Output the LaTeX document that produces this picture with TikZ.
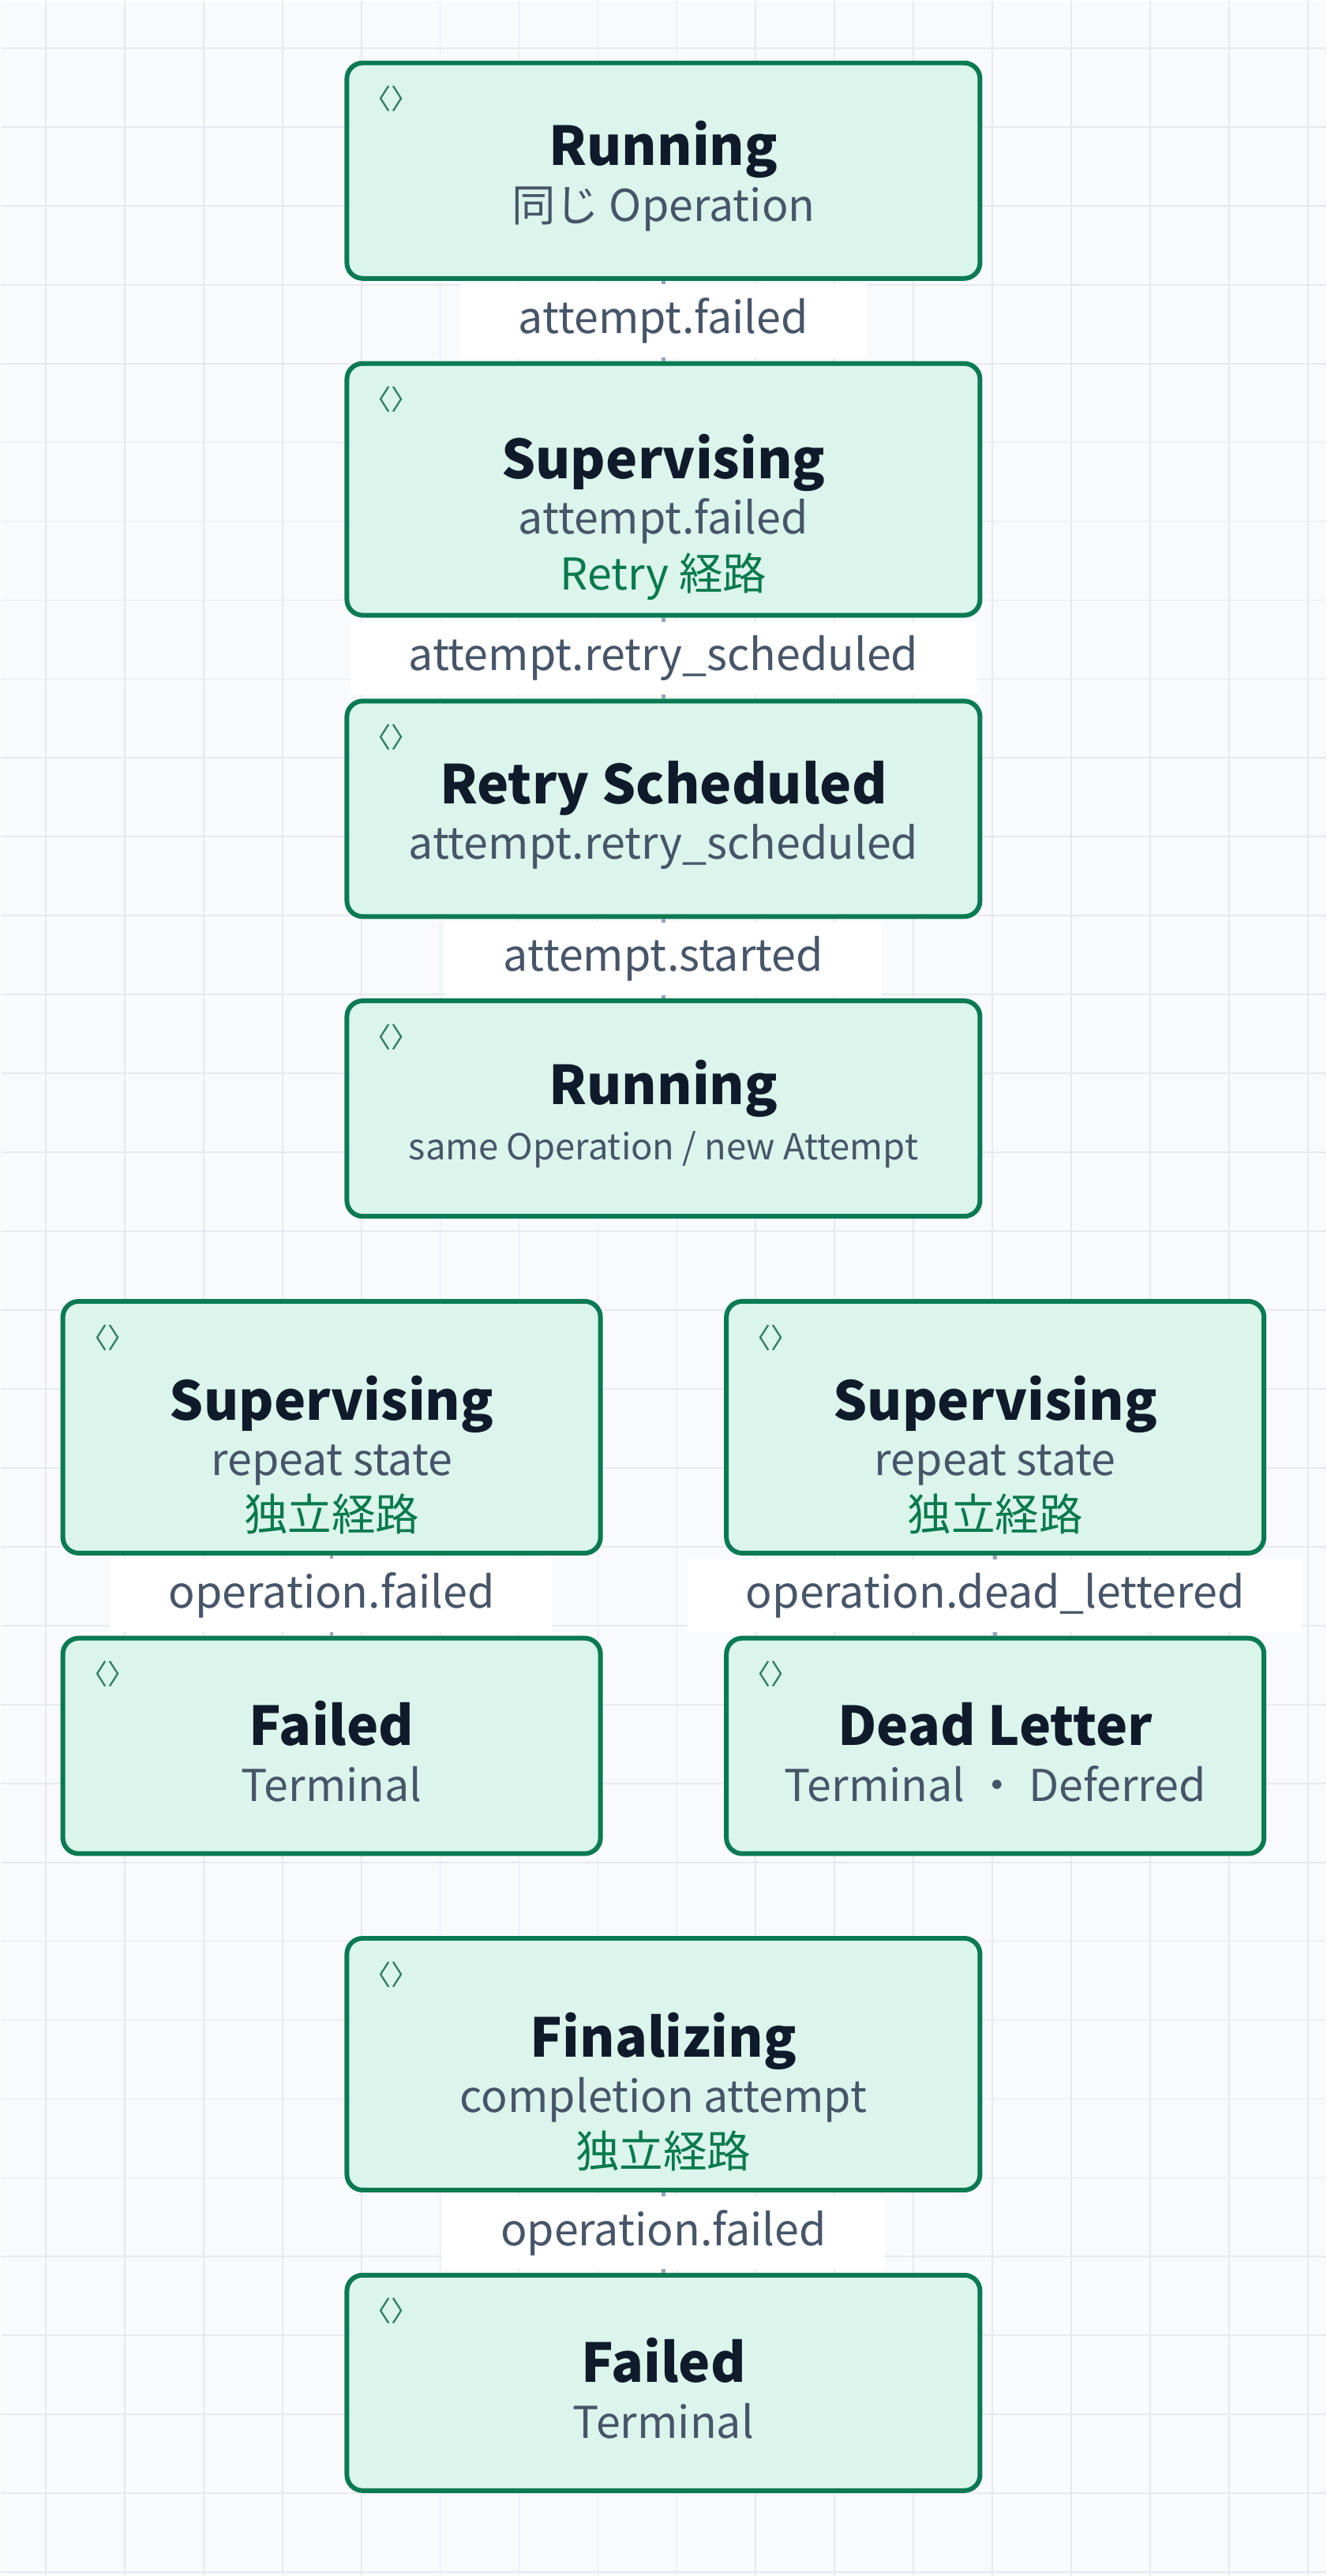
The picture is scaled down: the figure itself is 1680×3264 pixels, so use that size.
\documentclass[tikz,border=0pt]{standalone}
\usepackage{fontspec}
\setmainfont{Noto Sans CJK JP}
\usetikzlibrary{positioning}
\definecolor{bgpaper}{HTML}{F8FAFC}
\definecolor{gridline}{HTML}{E6EAEF}
\definecolor{statefill}{HTML}{DBF5EC}
\definecolor{stateedge}{HTML}{0A7A52}
\definecolor{titleink}{HTML}{0F1A2A}
\definecolor{subink}{HTML}{475569}
\definecolor{pathink}{HTML}{087A4C}
\definecolor{wire}{HTML}{94A3B8}
\newcommand{\statefont}{\fontsize{15.8}{20}\selectfont\lineskiplimit=-30pt\relax\lineskip=0pt\relax}
\newcommand{\sttitle}[1]{\rule{0pt}{20pt}{\fontsize{19.3}{20}\selectfont\bfseries\color{titleink}#1}}
\newcommand{\sttitletall}[1]{\rule{0pt}{36pt}{\fontsize{19.3}{20}\selectfont\bfseries\color{titleink}#1}}
\newcommand{\stsub}[1]{{\fontsize{15.8}{20}\selectfont\color{subink}#1}}
\newcommand{\stpath}[1]{{\fontsize{15.8}{20}\selectfont\color{pathink}#1}}

\begin{document}
\begin{tikzpicture}[x=0.01cm, y=-0.01cm,
    state/.style={rectangle, rounded corners=0.2cm, draw=stateedge, line width=1.7pt, fill=statefill, minimum width=8.02cm, minimum height=2.73cm, align=center, text centered, font=\statefont},
    tall/.style={minimum height=3.19cm},
    narrow/.style={minimum width=6.81cm},
    edgelabel/.style={fill=white, inner xsep=21pt, inner ysep=5pt, font=\fontsize{15.8}{18}\selectfont, text=subink},
    link/.style={draw=wire, line width=1.3pt},
    cornermark/.style={font=\fontsize{10}{10}\selectfont, text=stateedge!70!gray, anchor=north west}]

% Background and grid
\fill[bgpaper] (0,0) rectangle (1680,3264);
\foreach \gx in {57,157,...,1680} \draw[gridline, line width=0.5pt] (\gx,0) -- (\gx,3264);
\foreach \gy in {60,160,...,3264} \draw[gridline, line width=0.5pt] (0,\gy) -- (1680,\gy);
\useasboundingbox (0,0) rectangle (1680,3264);

% Main retry chain
\node[state] (run1) at (840,215.5) {\sttitle{Running}\\\stsub{同じ Operation}};
\node[state, tall] (sup1) at (840,619.5) {\sttitletall{Supervising}\\\stsub{attempt.failed}\\\stpath{Retry 経路}};
\node[state] (retry) at (840,1024.5) {\sttitle{Retry Scheduled}\\\stsub{attempt.retry\_scheduled}};
\node[state] (run2) at (840,1404.5) {\sttitle{Running}\\{\fontsize{12.9}{14}\selectfont\color{subink}same Operation / new Attempt}};

% Independent paths
\node[state, tall, narrow] (supL) at (419.5,1808.5) {\sttitletall{Supervising}\\\stsub{repeat state}\\\stpath{独立経路}};
\node[state, tall, narrow] (supR) at (1260.5,1808.5) {\sttitletall{Supervising}\\\stsub{repeat state}\\\stpath{独立経路}};
\node[state, narrow] (failL) at (419.5,2212.5) {\sttitle{Failed}\\\stsub{Terminal}};
\node[state, narrow] (dead) at (1260.5,2212.5) {\sttitle{Dead Letter}\\\stsub{Terminal ・ Deferred}};
\node[state, tall] (final) at (840,2616) {\sttitletall{Finalizing}\\\stsub{completion attempt}\\\stpath{独立経路}};
\node[state] (fail2) at (840,3020) {\sttitle{Failed}\\\stsub{Terminal}};

% Corner marks
\foreach \s in {run1,sup1,retry,run2,supL,supR,failL,dead,final,fail2}
  \node[cornermark] (\s-mark) at ([xshift=0.12cm, yshift=-0.2cm]\s.north west) {〈〉};

% Connections
\draw[link] (run1) -- node[edgelabel] (l1) {attempt.failed} (sup1);
\draw[link] (sup1) -- node[edgelabel] (l2) {attempt.retry\_scheduled} (retry);
\draw[link] (retry) -- node[edgelabel] (l3) {attempt.started} (run2);
\draw[link] (supL) -- node[edgelabel] (l4) {operation.failed} (failL);
\draw[link] (supR) -- node[edgelabel] (l5) {operation.dead\_lettered} (dead);
\draw[link] (final) -- node[edgelabel] (l6) {operation.failed} (fail2);

\end{tikzpicture}
\end{document}
